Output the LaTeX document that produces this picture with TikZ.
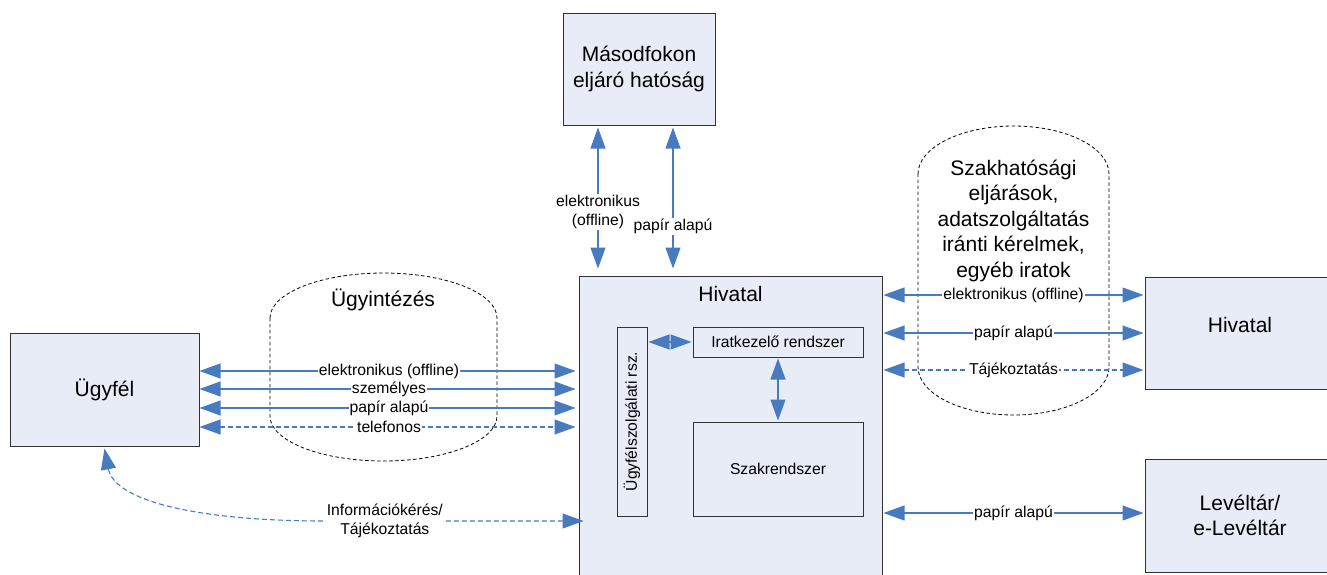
\documentclass[tikz,border=0pt]{standalone}
\usepackage{fontspec}
\setmainfont{Liberation Sans}
\usetikzlibrary{arrows.meta,calc}
\definecolor{boxfill}{RGB}{231,236,247}
\definecolor{boxline}{RGB}{50,50,50}
\definecolor{flow}{RGB}{72,122,192}
\newcommand\bigfont{\fontsize{21}{25.5}\selectfont}
\newcommand\smallfont{\fontsize{15.7}{19}\selectfont}
\tikzset{
  box/.style={draw=boxline, fill=boxfill, line width=1pt, inner sep=0pt, align=center, font=\bigfont},
  subbox/.style={draw=boxline, fill=boxfill, line width=1pt, inner sep=0pt, font=\smallfont},
  conn/.style={draw=flow, line width=1.1pt,
    {Triangle[length=21pt,width=15pt]}-{Triangle[length=21pt,width=15pt]}},
  dconn/.style={conn, dash pattern=on 5pt off 3pt},
  lab/.style={fill=white, inner sep=1pt, font=\smallfont, align=center, text=black},
  area/.style={draw=black, line width=0.8pt, dash pattern=on 3.5pt off 2.5pt},
  areatext/.style={font=\bigfont, align=center, inner sep=0pt},
}
\begin{document}
\begin{tikzpicture}[x=1pt,y=-1pt]
\useasboundingbox (0,0) rectangle (1327,574);
\clip (0,0) rectangle (1327,574);

% dashed process areas
\draw[area] (270,318) .. controls (270,293.1) and (320.8,273) .. (383.5,273)
  .. controls (446.2,273) and (497,293.1) .. (497,318) -- (497,416)
  .. controls (497,440.9) and (446.2,461) .. (383.5,461)
  .. controls (320.8,461) and (270,440.9) .. (270,416) -- cycle;
\draw[area] (918,174) .. controls (918,147.5) and (960.8,126) .. (1013.5,126)
  .. controls (1066.2,126) and (1109,147.5) .. (1109,174) -- (1109,367)
  .. controls (1109,393.5) and (1066.2,415) .. (1013.5,415)
  .. controls (960.8,415) and (918,393.5) .. (918,367) -- cycle;
\node[areatext, anchor=base] (ugyint) at (383,306.7) {Ügyintézés};
\node[areatext, anchor=north] (szakh) at (1013.5,159.5)
  {Szakhatósági\\eljárások,\\adatszolgáltatás\\iránti kérelmek,\\egyéb iratok};

% boxes
\node[box, minimum width=189pt, minimum height=113pt] (ufel) at (104.5,389.5) {Ügyfél};
\node[box, minimum width=152pt, minimum height=112pt] (masod) at (639,69) {Másodfokon\\eljáró hatóság};
\node[box, minimum width=303pt, minimum height=320pt] (hiv) at (730.5,436) {};
\node[font=\bigfont, anchor=base] (hivtitle) at (730.5,301.7) {Hivatal};
\node[subbox, rotate=90, minimum width=189pt, minimum height=30pt] (usz) at (632,421.5)
  {Ügyfélszolgálati rsz.\hspace{13pt}};
\node[subbox, minimum width=170pt, minimum height=30pt] (irat) at (778,342) {Iratkezelő rendszer};
\node[subbox, minimum width=170pt, minimum height=94pt] (szak) at (778,469) {Szakrendszer};
\node[box, minimum width=190pt, minimum height=112pt, text height=15pt, text depth=16pt] (hiv2) at (1240,333) {Hivatal};
\node[box, minimum width=190pt, minimum height=113pt] (lev) at (1240,515.5) {Levéltár/\\e-Levéltár};

% client <-> office
\coordinate (a1) at ([yshift=18.5pt]ufel.east);
\coordinate (a2) at ([yshift=0.5pt]ufel.east);
\coordinate (a3) at ([yshift=-18.5pt]ufel.east);
\coordinate (a4) at ([yshift=-37.5pt]ufel.east);
\draw[conn, shorten >=3pt] (a1) -- node[lab]{elektronikus (offline)} (a1 -| hiv.west);
\draw[conn, shorten >=3pt] (a2) -- node[lab]{személyes} (a2 -| hiv.west);
\draw[conn, shorten >=3pt] (a3) -- node[lab]{papír alapú} (a3 -| hiv.west);
\draw[dconn, shorten >=3pt] (a4) -- node[lab]{telefonos} (a4 -| hiv.west);

% information request
\coordinate (inf) at ([yshift=-85pt, xshift=5pt]hiv.west);
\draw[dconn] (inf) -- node[lab, pos=0.77]{Információkérés/\\Tájékoztatás} ++(-258,0)
  .. controls +(-130,0) and +(10,52) .. ([yshift=-2pt]ufel.south);

% second instance
\coordinate (v1) at ([xshift=-41pt]masod.south);
\coordinate (v2) at ([xshift=34pt]masod.south);
\draw[conn, shorten <=2pt, shorten >=7pt] (v1) -- node[lab, pos=0.576]{elektronikus\\(offline)} (v1 |- hiv.north);
\draw[conn, shorten <=2pt, shorten >=7pt] (v2) -- node[lab, pos=0.675]{papír alapú} (v2 |- hiv.north);

% other office and archive
\coordinate (b1) at ([yshift=38pt]hiv2.west);
\coordinate (b2) at (hiv2.west);
\coordinate (b3) at ([yshift=-37pt]hiv2.west);
\coordinate (c1) at ([yshift=2.5pt]lev.west);
\draw[conn, shorten <=1pt, shorten >=1pt] (b1 -| hiv.east) -- node[lab]{elektronikus (offline)} (b1);
\draw[conn, shorten <=1pt, shorten >=1pt] (b2 -| hiv.east) -- node[lab]{papír alapú} (b2);
\draw[dconn, shorten <=1pt, shorten >=1pt] (b3 -| hiv.east) -- node[lab]{Tájékoztatás} (b3);
\draw[conn, shorten <=1pt, shorten >=1pt] (c1 -| hiv.east) -- node[lab]{papír alapú} (c1);

% internal systems
\draw[conn, shorten <=1pt, shorten >=1pt] (irat.west) -- (irat.west -| usz.south);
\draw[conn, shorten <=1pt, shorten >=1pt] (irat.south) -- (szak.north);
\end{tikzpicture}
\end{document}
